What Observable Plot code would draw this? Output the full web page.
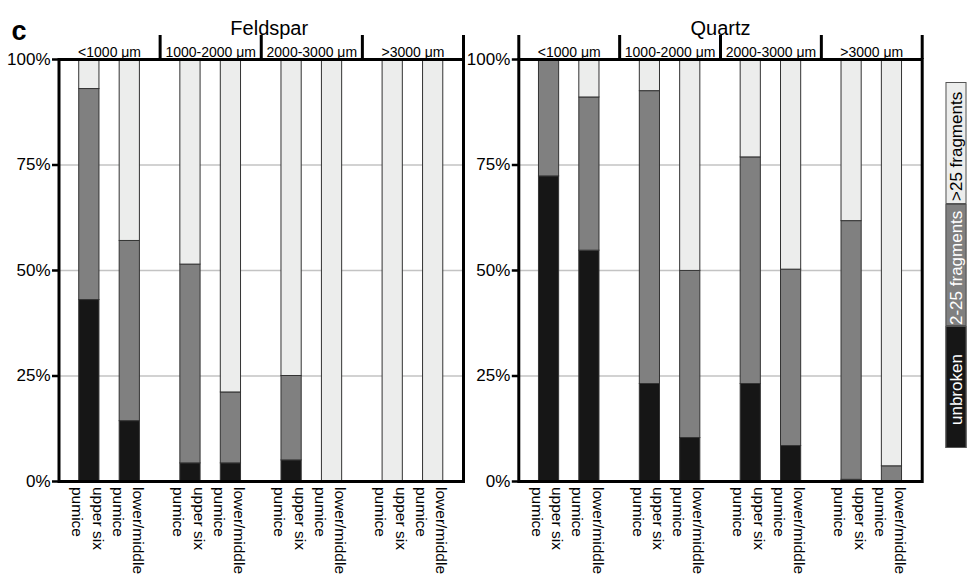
<!DOCTYPE html>
<html><head><meta charset="utf-8">
<script src="https://cdn.jsdelivr.net/npm/d3@7"></script>
<script src="https://cdn.jsdelivr.net/npm/@observablehq/plot@0.6"></script>
<style>
body{margin:0;background:#fff;font-family:"Liberation Sans",Arial,sans-serif;}
#wrap{position:relative;width:967px;height:578px;overflow:hidden;background:#fff;}
.panel{position:absolute;top:0;}
#legend{position:absolute;left:945.5px;top:81.5px;width:20.5px;display:flex;flex-direction:column;}
.lg{box-sizing:border-box;height:122px;border:1px solid #555;display:flex;align-items:center;justify-content:center;writing-mode:vertical-rl;transform:rotate(180deg);font-size:17px;white-space:nowrap;line-height:1;padding-bottom:6px;}
</style></head>
<body>
<div id="wrap"><div id="p1" class="panel"></div><div id="p2" class="panel"></div><div id="legend"></div></div>
<script>
// ---- data ----
const sizeGroups = ["<1000 μm", "1000-2000 μm", "2000-3000 μm", ">3000 μm"];
const samples = ["upper six\npumice", "lower/middle\npumice"];
const categories = ["unbroken", "2-25 fragments", ">25 fragments"];
const categoryColors = ["#161616", "#808080", "#ecedec"];
const legendText = ["#fff", "#fff", "#000"];
const yTicks = [0, 25, 50, 75, 100];
const gridTicks = [25, 50, 75];

// values per bar: order = group0 upper, group0 lower, group1 upper, ...
const feldsparUnbroken  = [43.0, 14.3,  4.3,  4.3,  5.0,   0,   0,   0];
const feldsparFragments = [50.0, 42.7, 47.1, 16.8, 20.0,   0,   0,   0];
const feldsparOver25    = [ 7.0, 43.0, 48.6, 78.9, 75.0, 100, 100, 100];

const quartzUnbroken  = [72.3, 54.7, 23.1, 10.3, 23.1,  8.4,  0.4,  0];
const quartzFragments = [27.7, 36.3, 69.4, 39.6, 53.7, 41.8, 61.3,  3.6];
const quartzOver25    = [ 0.0,  9.0,  7.5, 50.1, 23.2, 49.8, 38.3, 96.4];

const font = '"Liberation Sans", Arial, sans-serif';
const H = 578, MT = 59, MB = 97, plotH = H - MT - MB;

function panel(name, series, o) {
  const rows = [], labels = [];
  series[0].forEach((_, i) => {
    const g = Math.floor(i / 2), s = i % 2;
    const xc = g + (s === 0 ? 0.3 : 0.7);
    labels.push({x: xc, label: samples[s]});
    let acc = 0;
    categories.forEach((c, k) => {
      const v = series[k][i];
      if (v > 0) rows.push({x1: xc - 0.1, x2: xc + 0.1, y1: acc, y2: acc + v, category: c});
      acc += v;
    });
  });
  const groupLabels = sizeGroups.map((t, g) => ({x: g + 0.5, t}));
  const seps = o.leftSep ? [0, 1, 2, 3, 4] : [1, 2, 3, 4];
  const marks = [
    Plot.ruleY(gridTicks, {stroke: "#c3c3c3", strokeWidth: 1.5}),
    Plot.rect(rows, {x1: "x1", x2: "x2", y1: "y1", y2: "y2", fill: "category", stroke: "#333", strokeWidth: 1}),
    Plot.axisY(yTicks, {tickFormat: d => d + "%", tickSize: 6.5, tickPadding: 2, fontSize: 17, strokeWidth: 2.5, stroke: "black", fill: "black", label: null}),
    Plot.frame({stroke: "black", strokeWidth: 3}),
    Plot.ruleX(seps, {x: d => d, stroke: "black", strokeWidth: 3, insetTop: -24, insetBottom: plotH}),
    Plot.text(groupLabels, {x: "x", frameAnchor: "top", dy: -12, text: "t", fontSize: 14, fill: "black"}),
    Plot.text([name], {frameAnchor: "top", dx: o.titleDx, dy: -38.5, text: d => d, fontSize: 20, fill: "black"}),
    Plot.text(labels, {x: "x", frameAnchor: "bottom", dy: 5.5, dx: -0.5, text: "label", rotate: 90, textAnchor: "start", lineAnchor: "middle", lineHeight: 1.32, fontSize: 15.5, fill: "black"})
  ];
  if (o.letter) marks.push(Plot.text([o.letter], {frameAnchor: "top-left", dx: 11 - o.ml, dy: -39, text: d => d, textAnchor: "start", fontSize: 27, fontWeight: "bold", fill: "black"}));
  return Plot.plot({
    width: o.width, height: H, marginLeft: o.ml, marginRight: o.mr, marginTop: MT, marginBottom: MB,
    x: {domain: [0, 4], axis: null},
    y: {domain: [0, 100], axis: null},
    color: {domain: categories, range: categoryColors},
    style: {fontFamily: font, overflow: "visible", background: "transparent", color: "black"},
    marks
  });
}

const p1 = panel("Feldspar", [feldsparUnbroken, feldsparFragments, feldsparOver25], {width: 465, ml: 58.5, mr: 2, titleDx: 8, letter: "c", leftSep: false});
const p2 = panel("Quartz", [quartzUnbroken, quartzFragments, quartzOver25], {width: 502, ml: 53.3, mr: 45.3, titleDx: 0, leftSep: true});
document.getElementById("p1").appendChild(p1);
const d2 = document.getElementById("p2");
d2.style.left = "465px";
d2.appendChild(p2);

// legend
const lg = document.getElementById("legend");
categories.slice().reverse().forEach((c) => {
  const k = categories.indexOf(c);
  const el = document.createElement("div");
  el.className = "lg";
  el.style.background = categoryColors[k];
  el.style.color = legendText[k];
  el.textContent = c;
  lg.appendChild(el);
});
</script>
</body></html>
